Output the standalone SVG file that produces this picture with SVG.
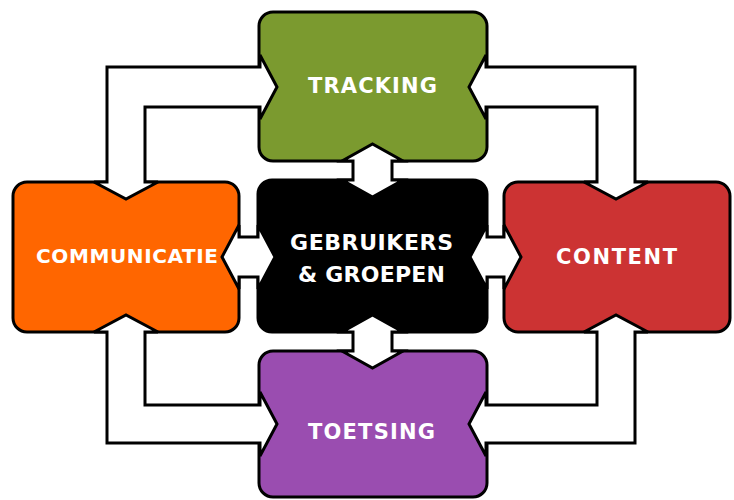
<svg xmlns="http://www.w3.org/2000/svg" width="734" height="500" viewBox="0 0 734 500">
  <style>
    .box { stroke: #000; stroke-width: 3; }
    .conn { fill: #fff; stroke: #000; stroke-width: 3; stroke-linejoin: miter; }
    .lbl { fill: #fff; font-family: "DejaVu Sans", "Liberation Sans", Arial, sans-serif; font-weight: bold; text-anchor: middle; }
  </style>
  <rect x="0" y="0" width="734" height="500" fill="#fff"/>

  <g id="node-tracking">
    <rect class="box" x="259" y="12" width="228" height="149" rx="14" fill="#7b9a2f"/>
  </g>
  <g id="node-gebruikers">
    <rect class="box" x="258" y="180" width="229" height="152" rx="14" fill="#000"/>
  </g>
  <g id="node-communicatie">
    <rect class="box" x="13" y="182" width="226" height="150" rx="14" fill="#ff6600"/>
  </g>
  <g id="node-content">
    <rect class="box" x="504" y="182" width="226" height="150" rx="14" fill="#cc3333"/>
  </g>
  <g id="node-toetsing">
    <rect class="box" x="259" y="351" width="228" height="146" rx="14" fill="#9a4db0"/>
  </g>

  <g id="connectors">
    <!-- COMMUNICATIE top <-> TRACKING left -->
    <polygon class="conn" points="107,182 107,67 260,67 260,55 277,87 260,119 260,107 145,107 145,182 158,182 126,199 94,182"/>
    <!-- TRACKING right <-> CONTENT top -->
    <polygon class="conn" points="486,67 635,67 635,182 648,182 616,199 584,182 597,182 597,107 486,107 486,119 469,87 486,55"/>
    <!-- COMMUNICATIE bottom <-> TOETSING left -->
    <polygon class="conn" points="107,332 94,332 126,315 158,332 145,332 145,405 260,405 260,392 277,424 260,456 260,443 107,443"/>
    <!-- CONTENT bottom <-> TOETSING right -->
    <polygon class="conn" points="597,332 584,332 616,315 648,332 635,332 635,443 486,443 486,456 469,424 486,392 486,405 597,405"/>
    <!-- TRACKING <-> GEBRUIKERS -->
    <polygon class="conn" points="353,161 353,180 342,180 372.5,197 403,180 392,180 392,161 403,161 372.5,144 342,161"/>
    <!-- GEBRUIKERS <-> TOETSING -->
    <polygon class="conn" points="353,332 342,332 372.5,315 403,332 392,332 392,351 403,351 372.5,368 342,351 353,351"/>
    <!-- COMMUNICATIE <-> GEBRUIKERS -->
    <polygon class="conn" points="239,237 258,237 258,225 275,257 258,289 258,277 239,277 239,289 222,257 239,225"/>
    <!-- GEBRUIKERS <-> CONTENT -->
    <polygon class="conn" points="487,237 504,237 504,225 521,257 504,289 504,277 487,277 487,289 470,257 487,225"/>
  </g>

  <g id="labels">
    <text class="lbl" x="372.5" y="93" font-size="21" textLength="129" lengthAdjust="spacing">TRACKING</text>
    <text class="lbl" x="127" y="263" font-size="20" textLength="182" lengthAdjust="spacing">COMMUNICATIE</text>
    <text class="lbl" x="371.5" y="250" font-size="22" textLength="163" lengthAdjust="spacing">GEBRUIKERS</text>
    <text class="lbl" x="371.5" y="282" font-size="22" textLength="147" lengthAdjust="spacing">&amp; GROEPEN</text>
    <text class="lbl" x="616.5" y="264" font-size="21" textLength="121" lengthAdjust="spacing">CONTENT</text>
    <text class="lbl" x="371.5" y="439" font-size="21" textLength="127" lengthAdjust="spacing">TOETSING</text>
  </g>
</svg>
